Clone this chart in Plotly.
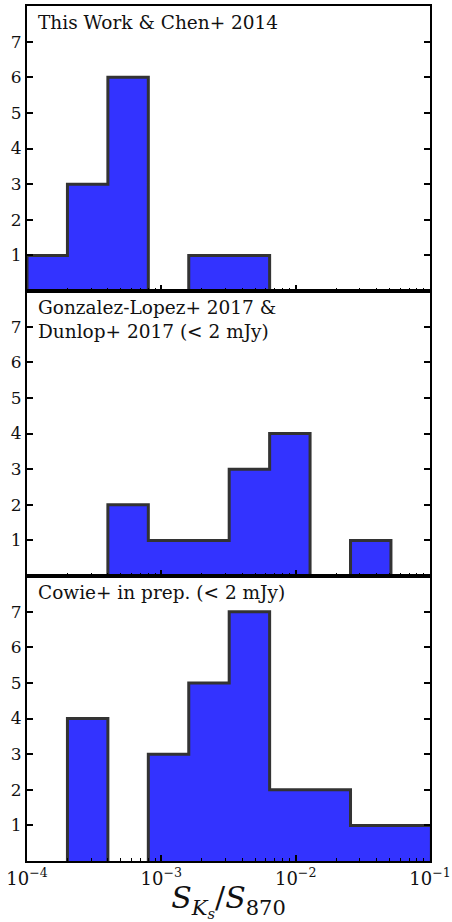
import plotly.graph_objects as go
from plotly.subplots import make_subplots

# bin edges of the histograms (S_Ks / S_870)
bin_edges = [1e-4, 2e-4, 4e-4, 8e-4, 1.6e-3, 3.2e-3, 6.4e-3, 1.28e-2, 2.56e-2, 5.12e-2, 1.024e-1]

# counts per bin for each panel
counts_thiswork = [1, 3, 6, 0, 1, 1, 0, 0, 0, 0]
counts_gonzalez = [0, 0, 2, 1, 1, 3, 4, 0, 1, 0]
counts_cowie = [0, 4, 0, 3, 5, 7, 2, 2, 1, 1]

panel_labels = [
    "This Work &amp; Chen+ 2014",
    "Gonzalez-Lopez+ 2017 &amp;<br>Dunlop+ 2017 (&lt; 2 mJy)",
    "Cowie+ in prep. (&lt; 2 mJy)",
]
panel_counts = [counts_thiswork, counts_gonzalez, counts_cowie]

y_tickvals = [1, 2, 3, 4, 5, 6, 7]
x_tickvals = [1e-4, 1e-3, 1e-2, 1e-1]
x_ticktext = ["10<sup>−4</sup>", "10<sup>−3</sup>", "10<sup>−2</sup>", "10<sup>−1</sup>"]
x_minor = [k * d for d in (1e-4, 1e-3, 1e-2) for k in range(2, 10)]

FONT = "DejaVu Serif"
FILL = "#3333ff"
EDGE = "#333333"

fig = make_subplots(rows=3, cols=1, shared_xaxes=True, vertical_spacing=0)


def runs(counts):
    """contiguous runs of non-empty bins (start, stop) indices"""
    out, start = [], None
    for j, c in enumerate(counts + [0]):
        if c > 0 and start is None:
            start = j
        elif c == 0 and start is not None:
            out.append((start, j))
            start = None
    return out


for i, counts in enumerate(panel_counts):
    for a, b in runs(counts):
        xs = [bin_edges[a]] + bin_edges[a:b + 1]
        ys = [0] + counts[a:b] + [0]
        fig.add_trace(
            go.Scatter(
                x=xs, y=ys, mode="lines", line=dict(shape="hv", color=EDGE, width=3),
                fill="tozeroy", fillcolor=FILL, showlegend=False, hoverinfo="skip",
            ),
            row=i + 1, col=1,
        )
    fig.add_annotation(
        text=panel_labels[i], xref=f"x{'' if i == 0 else i + 1} domain",
        yref=f"y{'' if i == 0 else i + 1} domain", x=0.022, y=0.985,
        xanchor="left", yanchor="top", align="left", showarrow=False,
        font=dict(family=FONT, size=18.5, color="#111"),
    )
    fig.update_yaxes(
        range=[0, 8], tickvals=y_tickvals, ticks="inside", ticklen=6, tickwidth=1.5,
        tickcolor="black", showline=True, linecolor="black", linewidth=2,
        mirror="ticks", showgrid=False, zeroline=False, automargin=False,
        tickfont=dict(family=FONT, size=17, color="#111"),
        row=i + 1, col=1,
    )
    fig.update_xaxes(
        type="log", range=[-4, -1], tickvals=x_tickvals, ticktext=x_ticktext,
        ticks="inside", ticklen=6, tickwidth=1.5, tickcolor="black",
        minor=dict(tickvals=x_minor, ticks="inside", ticklen=3, tickwidth=1,
                   tickcolor="black", showgrid=False),
        showline=True, linecolor="black", linewidth=2, mirror=True,
        showgrid=False, zeroline=False, showticklabels=(i == 2), automargin=False,
        tickfont=dict(family=FONT, size=18, color="#111"),
        row=i + 1, col=1,
    )

fig.update_xaxes(
    title=dict(
        text="<i>S</i><sub><i>K</i><sub><i>s</i></sub></sub>/<i>S</i><sub>870</sub>",
        font=dict(family=FONT, size=30, color="#111"), standoff=0,
    ),
    row=3, col=1,
)

fig.update_layout(
    width=452, height=922, margin=dict(l=27, r=22, t=6, b=61),
    paper_bgcolor="white", plot_bgcolor="white",
)

fig.write_html("out.html")
